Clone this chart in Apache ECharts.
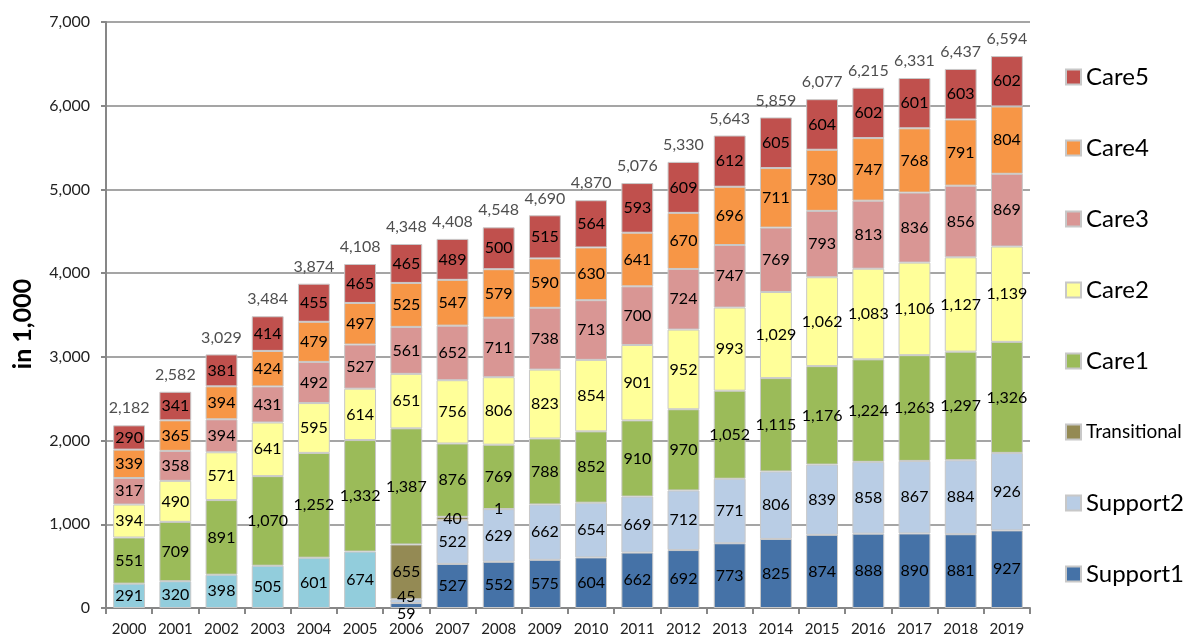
<!DOCTYPE html>
<html>
<head>
<meta charset="utf-8">
<script src="https://cdn.jsdelivr.net/npm/echarts@6/dist/echarts.min.js"></script>
<style>
  html, body { margin: 0; padding: 0; background: #fff; }
  #chart { width: 1190px; height: 638px; }
</style>
</head>
<body>
<div id="chart"></div>
<script>
// ---- Data (in 1,000) ----
const years = ['2000','2001','2002','2003','2004','2005','2006','2007','2008','2009',
               '2010','2011','2012','2013','2014','2015','2016','2017','2018','2019'];
const supportOld   = [291, 320, 398, 505, 601, 674, null, null, null, null, null, null, null, null, null, null, null, null, null, null];
const support1     = [null, null, null, null, null, null, 59, 527, 552, 575, 604, 662, 692, 773, 825, 874, 888, 890, 881, 927];
const support2     = [null, null, null, null, null, null, 45, 522, 629, 662, 654, 669, 712, 771, 806, 839, 858, 867, 884, 926];
const transitional = [null, null, null, null, null, null, 655, 40, 1, null, null, null, null, null, null, null, null, null, null, null];
const care1        = [551, 709, 891, 1070, 1252, 1332, 1387, 876, 769, 788, 852, 910, 970, 1052, 1115, 1176, 1224, 1263, 1297, 1326];
const care2        = [394, 490, 571, 641, 595, 614, 651, 756, 806, 823, 854, 901, 952, 993, 1029, 1062, 1083, 1106, 1127, 1139];
const care3        = [317, 358, 394, 431, 492, 527, 561, 652, 711, 738, 713, 700, 724, 747, 769, 793, 813, 836, 856, 869];
const care4        = [339, 365, 394, 424, 479, 497, 525, 547, 579, 590, 630, 641, 670, 696, 711, 730, 747, 768, 791, 804];
const care5        = [290, 341, 381, 414, 455, 465, 465, 489, 500, 515, 564, 593, 609, 612, 605, 604, 602, 601, 603, 602];
const totals       = [2182, 2582, 3029, 3484, 3874, 4108, 4348, 4408, 4548, 4690, 4870, 5076, 5330, 5643, 5859, 6077, 6215, 6331, 6437, 6594];
const yTicks = { min: 0, max: 7000, interval: 1000 };
const legendOrder = ['Care5','Care4','Care3','Care2','Care1','Transitional','Support2','Support1'];

const FONT = 'Lato, "Open Sans", sans-serif';
const fmt = v => (v == null || v === '-' ? '' : Number(v).toLocaleString('en-US'));

function withOverrides(arr, overrides) {
  return arr.map((v, i) => overrides[i] ? Object.assign({ value: v }, overrides[i]) : v);
}

function bar(name, data, color) {
  return {
    name: name,
    type: 'bar',
    stack: 'total',
    barCategoryGap: '31%',
    data: data,
    itemStyle: { color: color, borderColor: '#c8c8c8', borderWidth: 1 },
    label: {
      show: true,
      position: 'inside',
      color: '#000',
      fontFamily: FONT,
      fontSize: 16,
      formatter: p => fmt(p.value)
    },
    emphasis: { disabled: true }
  };
}

const chart = echarts.init(document.getElementById('chart'), null, { renderer: 'canvas' });

const series = [
  bar('Support', supportOld, '#92CDDC'),
  bar('Support1', withOverrides(support1, { 6: { label: { offset: [0, 8] } } }), '#4572A7'),
  bar('Support2', withOverrides(support2, { 6: { label: { offset: [0, -4] } } }), '#B9CDE5'),
  bar('Transitional', transitional, '#948A54'),
  bar('Care1', care1, '#9BBB59'),
  bar('Care2', care2, '#FFFF99'),
  bar('Care3', care3, '#D99694'),
  bar('Care4', care4, '#F79646'),
  bar('Care5', care5, '#C0504D'),
  {
    name: 'Total',
    type: 'scatter',
    data: totals,
    symbolSize: 0,
    silent: true,
    label: {
      show: true,
      position: 'top',
      distance: 9,
      color: '#222',
      fontFamily: FONT,
      fontSize: 16,
      formatter: p => fmt(p.value)
    },
    z: 5
  }
];

chart.setOption({
  animation: false,
  backgroundColor: '#fff',
  grid: { left: 106, right: 160, top: 22, bottom: 30 },
  legend: {
    data: legendOrder,
    orient: 'vertical',
    left: 1060,
    top: 57,
    itemWidth: 15,
    itemHeight: 15,
    itemGap: 41,
    icon: 'rect',
    selectedMode: false,
    formatter: n => n === 'Transitional' ? '{s|Transitional}' : n,
    textStyle: {
      fontFamily: FONT,
      fontSize: 24,
      lineHeight: 30,
      color: '#000',
      rich: { s: { fontFamily: FONT, fontSize: 19, lineHeight: 30, color: '#000' } }
    }
  },
  xAxis: {
    type: 'category',
    data: years,
    axisLine: { lineStyle: { color: '#878787', width: 2 } },
    axisTick: { show: true, alignWithLabel: false, length: 6, lineStyle: { color: '#878787', width: 2 } },
    axisLabel: { interval: 0, color: '#222', fontFamily: FONT, fontSize: 15, margin: 14 }
  },
  yAxis: {
    type: 'value',
    min: yTicks.min,
    max: yTicks.max,
    interval: yTicks.interval,
    axisLine: { show: true, lineStyle: { color: '#878787', width: 2 } },
    axisTick: { show: true, length: 5, lineStyle: { color: '#878787', width: 2 } },
    splitLine: { show: true, lineStyle: { color: '#878787', width: 1.5 } },
    axisLabel: { color: '#222', fontFamily: FONT, fontSize: 16, margin: 16, formatter: v => fmt(v) }
  },
  graphic: [{
    type: 'text',
    x: 23,
    y: 324,
    rotation: Math.PI / 2,
    style: {
      text: 'in 1,000',
      font: 'bold 25px ' + FONT,
      fill: '#000',
      align: 'center',
      verticalAlign: 'middle'
    }
  }],
  series: series
});
</script>
</body>
</html>
